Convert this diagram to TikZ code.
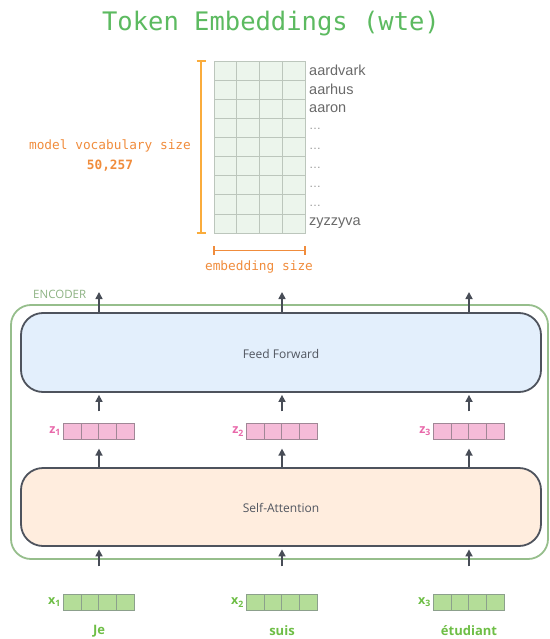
\documentclass[tikz,border=0pt]{standalone}
\usepackage{fontspec}
\setmainfont{Open Sans}
\newfontfamily\monof{DejaVu Sans Mono}
\newfontfamily\helv{Liberation Sans}
\usetikzlibrary{arrows.meta,calc}
\definecolor{titlegreen}{RGB}{92,186,96}
\definecolor{gridfill}{RGB}{236,245,236}
\definecolor{gridline}{RGB}{188,198,188}
\definecolor{wordgrey}{RGB}{105,105,105}
\definecolor{dotgrey}{RGB}{150,150,150}
\definecolor{barorange}{RGB}{250,172,60}
\definecolor{lblorange}{RGB}{240,140,60}
\definecolor{encgreen}{RGB}{150,190,140}
\definecolor{enctext}{RGB}{140,178,130}
\definecolor{boxline}{RGB}{78,83,93}
\definecolor{fffill}{RGB}{227,239,252}
\definecolor{safill}{RGB}{255,237,222}
\definecolor{boxtext}{RGB}{80,85,95}
\definecolor{zpink}{RGB}{245,187,216}
\definecolor{zline}{RGB}{160,135,150}
\definecolor{zlabel}{RGB}{232,105,170}
\definecolor{xgreen}{RGB}{180,221,152}
\definecolor{xline}{RGB}{140,160,140}
\definecolor{xlabel}{RGB}{110,190,70}
\definecolor{arrgrey}{RGB}{72,77,87}
\tikzset{
  arr/.style={draw=arrgrey, line width=1.6pt, -{Triangle[length=7pt,width=7pt]}},
  bigbox/.style={draw=boxline, line width=1.8pt, rounded corners=22pt, minimum width=520pt, inner sep=0pt},
  vecbox/.style={draw=#1, rectangle, minimum width=71pt, minimum height=15.5pt, inner sep=0pt, line width=0.7pt},
  zlab/.style={text=zlabel, font=\bfseries\fontsize{12.5}{12.5}\selectfont, anchor=east, inner sep=1pt},
  xlab/.style={text=xlabel, font=\bfseries\fontsize{12.5}{12.5}\selectfont, anchor=east, inner sep=1pt},
  wordlab/.style={text=xlabel, font=\bfseries\fontsize{13}{13}\selectfont},
  vocab/.style={text=wordgrey, font=\helv\fontsize{14.5}{14.5}\selectfont, anchor=west, inner sep=0pt},
  orangelab/.style={text=lblorange, font=\monof\fontsize{12.8}{12.8}\selectfont},
  boxlab/.style={text=boxtext, font=\fontsize{12}{12}\selectfont},
  bar/.style={draw=#1, line width=1.8pt},
}
\begin{document}
\begin{tikzpicture}[x=1pt,y=-1pt]
\useasboundingbox (0,0) rectangle (549,639);
% title
\node[text=titlegreen, font=\monof\fontsize{25.5}{25.5}\selectfont] (title) at (271,24) {Token Embeddings (wte)};
% grid
\node[draw=gridline, fill=gridfill, minimum width=91pt, minimum height=172pt, inner sep=0pt, line width=0.7pt, anchor=north west] (grid) at (214,61) {};
\foreach \i in {1,2,3} \draw[gridline, line width=0.7pt] (214+22.75*\i,61) -- (214+22.75*\i,233);
\foreach \j in {1,...,8} \draw[gridline, line width=0.7pt] (214,61+19.11*\j) -- (305,61+19.11*\j);
\foreach \t [count=\k from 0] in {aardvark,aarhus,aaron}
  \node[vocab] (w\k) at (309,70.5+19.11*\k) {\t};
\foreach \k in {3,...,7}
  \node[vocab, text=dotgrey, font=\helv\fontsize{12}{12}\selectfont] (w\k) at (309,72+19.11*\k) {\dots};
\node[vocab] (w8) at (309,70.5+19.11*8) {zyzzyva};
% vertical bar
\coordinate (vt) at (201,61);
\coordinate (vb) at (201,233);
\draw[bar=barorange] (vt) -- (vb);
\draw[bar=barorange] ($(vt)+(-4.5,0)$) -- ($(vt)+(4.5,0)$);
\draw[bar=barorange] ($(vb)+(-4.5,0)$) -- ($(vb)+(4.5,0)$);
\node[orangelab] (vocsize) at (110,146) {model vocabulary size};
\node[orangelab, font=\monof\bfseries\fontsize{12.8}{12.8}\selectfont] (vocnum) at (110,166) {50,257};
% horizontal bar
\coordinate (hl) at (214,250.5);
\coordinate (hr) at (305,250.5);
\draw[bar=lblorange] (hl) -- (hr);
\draw[bar=lblorange] ($(hl)+(0,-4.5)$) -- ($(hl)+(0,4.5)$);
\draw[bar=lblorange] ($(hr)+(0,-4.5)$) -- ($(hr)+(0,4.5)$);
\node[orangelab] (embsize) at (259,267) {embedding size};
% encoder
\node[draw=encgreen, line width=1.8pt, rounded corners=20pt, minimum width=537pt, minimum height=254pt, inner sep=0pt] (enc) at (279.5,432) {};
\node[text=enctext, font=\fontsize{11.5}{11.5}\selectfont, anchor=west, inner sep=0pt] (enclab) at (33,294.5) {ENCODER};
% big boxes
\node[bigbox, fill=fffill, minimum height=79pt] (ff) at (281,352.5) {};
\node[boxlab] (fftext) at (281,354) {Feed Forward};
\node[bigbox, fill=safill, minimum height=78pt] (sa) at (281,507) {};
\node[boxlab] (satext) at (281,508) {Self-Attention};
% vectors
\foreach \c/\n/\w in {99/1/Je,282/2/suis,469/3/étudiant}{
  \node[vecbox=zline, fill=zpink] (z\n) at (\c,431.5) {};
  \foreach \i in {1,2,3} \draw[zline, line width=0.7pt] ($(z\n.north west)+(17.75*\i,0)$) -- ($(z\n.south west)+(17.75*\i,0)$);
  \node[zlab] (zl\n) at ($(z\n.west)+(-1,0)$) {z\textsubscript{\n}};
  \node[vecbox=xline, fill=xgreen] (x\n) at (\c,602.5) {};
  \foreach \i in {1,2,3} \draw[xline, line width=0.7pt] ($(x\n.north west)+(17.75*\i,0)$) -- ($(x\n.south west)+(17.75*\i,0)$);
  \node[xlab] (xl\n) at ($(x\n.west)+(-1,0)$) {x\textsubscript{\n}};
  \node[wordlab] (word\n) at (\c,631) {\w};
  \coordinate (top\n) at (\c,292);
  \draw[arr] (ff.north -| top\n) -- (top\n);
  \draw[arr, shorten <=12pt, shorten >=2pt] (z\n.north) -- (ff.south -| z\n);
  \draw[arr, shorten >=9pt] (sa.north -| z\n) -- (z\n.south);
  \draw[arr, shorten <=28pt, shorten >=2.5pt] (x\n.north) -- (sa.south -| x\n);
}
\end{tikzpicture}
\end{document}
